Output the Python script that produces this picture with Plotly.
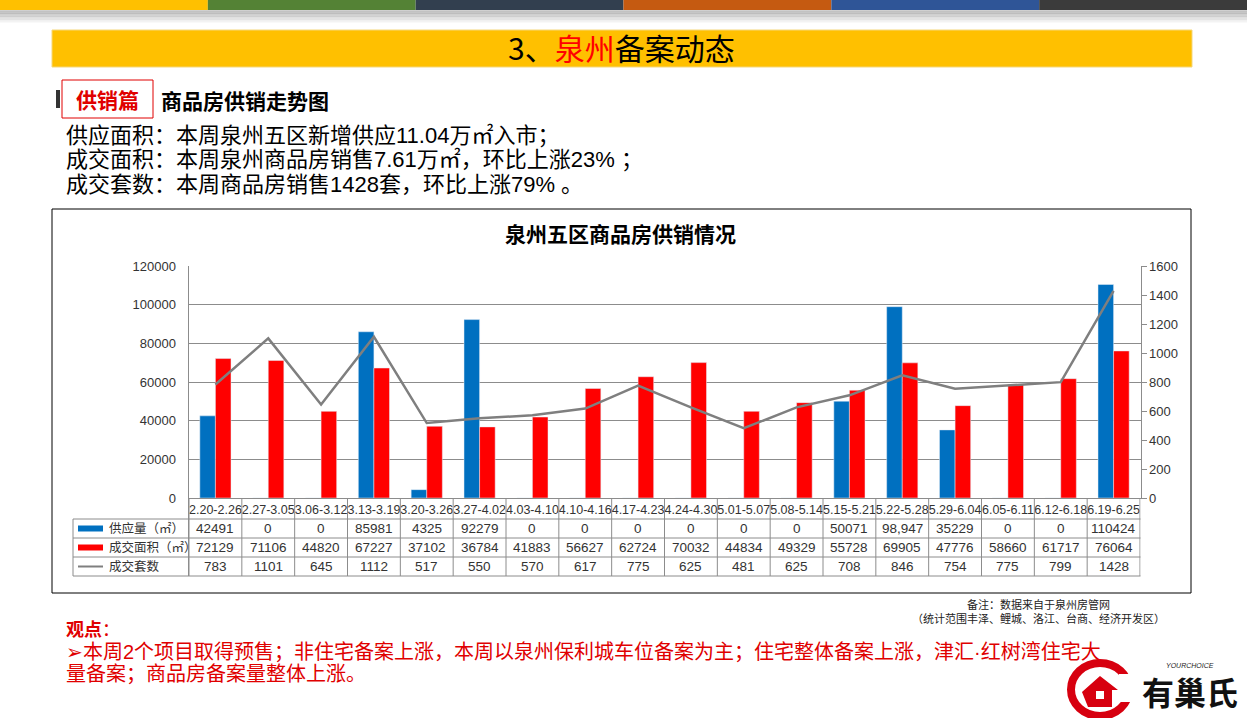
import plotly.graph_objects as go

W, H = 1247, 718

# ---------------- data ----------------
categories = ["2.20-2.26", "2.27-3.05", "3.06-3.12", "3.13-3.19", "3.20-3.26", "3.27-4.02",
              "4.03-4.10", "4.10-4.16", "4.17-4.23", "4.24-4.30", "5.01-5.07", "5.08-5.14",
              "5.15-5.21", "5.22-5.28", "5.29-6.04", "6.05-6.11", "6.12-6.18", "6.19-6.25"]
supply = [42491, 0, 0, 85981, 4325, 92279, 0, 0, 0, 0, 0, 0, 50071, 98947, 35229, 0, 0, 110424]
deal_area = [72129, 71106, 44820, 67227, 37102, 36784, 41883, 56627, 62724, 70032, 44834, 49329,
             55728, 69905, 47776, 58660, 61717, 76064]
deal_units = [783, 1101, 645, 1112, 517, 550, 570, 617, 775, 625, 481, 625, 708, 846, 754, 775, 799, 1428]
comma_idx = {13}  # table shows this cell with a thousands separator
series_names = ["供应量（㎡）", "成交面积（㎡）", "成交套数"]
left_ticks = [0, 20000, 40000, 60000, 80000, 100000, 120000]
right_ticks = [0, 200, 400, 600, 800, 1000, 1200, 1400, 1600]

BLUE = "#0070C0"
RED = "#FF0000"
GRAY_LINE = "#7F7F7F"
GRID = "#8C8C8C"
TXT = "#333333"
CJK = "Noto Sans CJK SC"
MIX = "Liberation Sans, Noto Sans CJK SC"


def px(x):
    return x / W


def py(y):
    return 1 - y / H


PL, PR, PT, PB = 188.5, 1140.5, 266, 498  # plot area in pixels

fig = go.Figure()
fig.add_trace(go.Bar(x=categories, y=supply, name=series_names[0], marker_color=BLUE))
fig.add_trace(go.Bar(x=categories, y=deal_area, name=series_names[1], marker_color=RED))
fig.add_trace(go.Scatter(x=categories, y=deal_units, name=series_names[2], mode="lines",
                         line=dict(color=GRAY_LINE, width=2.5), yaxis="y2"))

shapes = []
annotations = []

# ---------- header stripes ----------
stripe_colors = ["#FFC000", "#548235", "#323F4F", "#C55A11", "#2F5597", "#3B3B3B"]
sw = W / len(stripe_colors)
for i, c in enumerate(stripe_colors):
    shapes.append(dict(type="rect", xref="paper", yref="paper", x0=px(i * sw), x1=px((i + 1) * sw),
                       y0=py(10), y1=py(0), fillcolor=c, line_width=0, layer="above"))
for k in range(8):
    shapes.append(dict(type="rect", xref="paper", yref="paper", x0=0, x1=1,
                       y0=py(11 + 1.5 * (k + 1)), y1=py(10 + 1.5 * k),
                       fillcolor="rgba(120,120,120,%.3f)" % (0.35 * (1 - k / 8)), line_width=0))

# yellow banner
shapes.append(dict(type="rect", xref="paper", yref="paper", x0=px(52), x1=px(1192), y0=py(67), y1=py(30),
                   fillcolor="#FFC000", line=dict(color="#F5D77A", width=1)))
annotations.append(dict(xref="paper", yref="paper", x=px(621), y=py(47), showarrow=False,
                        text="3、<span style='color:#FF0000'>泉州</span>备案动态",
                        font=dict(family=CJK, size=30, color="#000000"), xanchor="center", yanchor="middle"))

# section label box
shapes.append(dict(type="rect", xref="paper", yref="paper", x0=px(62), x1=px(153), y0=py(118), y1=py(80),
                   fillcolor="white", line=dict(color="#E00000", width=1)))
shapes.append(dict(type="rect", xref="paper", yref="paper", x0=px(56), x1=px(60), y0=py(108), y1=py(90),
                   fillcolor="#333333", line_width=0))
annotations.append(dict(xref="paper", yref="paper", x=px(107.5), y=py(99), showarrow=False,
                        text="<b>供销篇</b>", font=dict(family=CJK, size=21, color="#E00000"),
                        xanchor="center", yanchor="middle"))
annotations.append(dict(xref="paper", yref="paper", x=px(159), y=py(100), showarrow=False,
                        text="<b>商品房供销走势图</b>", font=dict(family=CJK, size=21, color="#000000"),
                        xanchor="left", yanchor="middle"))

summary_lines = ["供应面积：本周泉州五区新增供应11.04万㎡入市；",
                 "成交面积：本周泉州商品房销售7.61万㎡，环比上涨23% ；",
                 "成交套数：本周商品房销售1428套，环比上涨79% 。"]
for i, line in enumerate(summary_lines):
    annotations.append(dict(xref="paper", yref="paper", x=px(64), y=py(135 + 24.5 * i), showarrow=False,
                            text=line, font=dict(family=MIX, size=22, color="#000000"),
                            xanchor="left", yanchor="middle"))

# chart frame
shapes.append(dict(type="rect", xref="paper", yref="paper", x0=px(52), x1=px(1191), y0=py(593), y1=py(209),
                   line=dict(color="#000000", width=1), fillcolor="rgba(0,0,0,0)"))
annotations.append(dict(xref="paper", yref="paper", x=px(620), y=py(233), showarrow=False,
                        text="<b>泉州五区商品房供销情况</b>", font=dict(family=CJK, size=21, color="#000000"),
                        xanchor="center", yanchor="middle"))

# ---------- data table ----------
T_TOP, R1, R2, T_BOT = 519, 538, 557, 576
TL = 73
n = len(categories)
for i in range(n + 1):
    shapes.append(dict(type="line", xref="x", yref="paper", x0=i - 0.5, x1=i - 0.5,
                       y0=py(T_BOT), y1=py(PB), line=dict(color=GRID, width=1)))
for yy in (T_TOP, R1, R2, T_BOT):
    shapes.append(dict(type="line", xref="paper", yref="paper", x0=px(TL), x1=px(PR),
                       y0=py(yy), y1=py(yy), line=dict(color=GRID, width=1)))
shapes.append(dict(type="line", xref="paper", yref="paper", x0=px(TL), x1=px(TL),
                   y0=py(T_BOT), y1=py(T_TOP), line=dict(color=GRID, width=1)))
shapes.append(dict(type="line", xref="paper", yref="paper", x0=px(PL), x1=px(PL),
                   y0=py(T_BOT), y1=py(PB), line=dict(color=GRID, width=1)))

row_centers = [(T_TOP + R1) / 2, (R1 + R2) / 2, (R2 + T_BOT) / 2]
shapes.append(dict(type="rect", xref="paper", yref="paper", x0=px(78), x1=px(103),
                   y0=py(row_centers[0] + 3), y1=py(row_centers[0] - 3), fillcolor=BLUE, line_width=0))
shapes.append(dict(type="rect", xref="paper", yref="paper", x0=px(78), x1=px(103),
                   y0=py(row_centers[1] + 3), y1=py(row_centers[1] - 3), fillcolor=RED, line_width=0))
shapes.append(dict(type="line", xref="paper", yref="paper", x0=px(78), x1=px(103),
                   y0=py(row_centers[2]), y1=py(row_centers[2]), line=dict(color=GRAY_LINE, width=2)))
for r, name in enumerate(series_names):
    annotations.append(dict(xref="paper", yref="paper", x=px(107), y=py(row_centers[r]), showarrow=False,
                            text=name, font=dict(family=MIX, size=12.5, color=TXT),
                            xanchor="left", yanchor="middle"))

rows = [
    [f"{v:,}" if i in comma_idx else str(v) for i, v in enumerate(supply)],
    [str(v) for v in deal_area],
    [str(v) for v in deal_units],
]
for r, vals in enumerate(rows):
    for i, v in enumerate(vals):
        annotations.append(dict(xref="x", yref="paper", x=categories[i], y=py(row_centers[r]), showarrow=False,
                                text=v, font=dict(family=MIX, size=13.5, color=TXT),
                                xanchor="center", yanchor="middle"))

# ---------- notes ----------
annotations.append(dict(xref="paper", yref="paper", x=px(1038), y=py(604), showarrow=False,
                        text="备注：数据来自于泉州房管网", font=dict(family=MIX, size=11, color="#222222"),
                        xanchor="center", yanchor="middle"))
annotations.append(dict(xref="paper", yref="paper", x=px(1038), y=py(618), showarrow=False,
                        text="（统计范围丰泽、鲤城、洛江、台商、经济开发区）",
                        font=dict(family=MIX, size=11, color="#222222"), xanchor="center", yanchor="middle"))
annotations.append(dict(xref="paper", yref="paper", x=px(64), y=py(630), showarrow=False,
                        text="<b>观点</b>：", font=dict(family=MIX, size=18, color="#E00000"),
                        xanchor="left", yanchor="middle"))
view_lines = ["➢本周2个项目取得预售；非住宅备案上涨，本周以泉州保利城车位备案为主；住宅整体备案上涨，津汇·红树湾住宅大",
              "量备案；商品房备案量整体上涨。"]
for i, line in enumerate(view_lines):
    annotations.append(dict(xref="paper", yref="paper", x=px(64), y=py(652 + 22 * i), showarrow=False,
                            text=line, font=dict(family=MIX, size=20, color="#E00000"),
                            xanchor="left", yanchor="middle"))

# ---------- logo ----------
shapes.append(dict(type="circle", xref="paper", yref="paper", x0=px(1071), x1=px(1129), y0=py(716), y1=py(663),
                   line=dict(color="#D7000F", width=8), fillcolor="rgba(0,0,0,0)"))
shapes.append(dict(type="rect", xref="paper", yref="paper", x0=px(1119), x1=px(1135), y0=py(702), y1=py(674),
                   fillcolor="white", line_width=0))
shapes.append(dict(type="path", xref="paper", yref="paper",
                   path="M %f %f L %f %f L %f %f L %f %f L %f %f L %f %f Z" % (
                       px(1082), py(692), px(1100), py(676), px(1118), py(690),
                       px(1112), py(690), px(1112), py(707), px(1088), py(707)),
                   fillcolor="#D7000F", line_width=0))
shapes.append(dict(type="rect", xref="paper", yref="paper", x0=px(1096), x1=px(1104), y0=py(699), y1=py(691),
                   fillcolor="white", line_width=0))
annotations.append(dict(xref="paper", yref="paper", x=px(1190), y=py(665), showarrow=False,
                        text="<i>YOURCHOICE</i>", font=dict(family="Liberation Sans", size=7, color="#222222"),
                        xanchor="center", yanchor="middle"))
annotations.append(dict(xref="paper", yref="paper", x=px(1190), y=py(694), showarrow=False,
                        text="<b>有巢氏</b>", font=dict(family=MIX, size=32, color="#111111"),
                        xanchor="center", yanchor="middle"))

fig.update_layout(
    width=W, height=H, autosize=False,
    margin=dict(l=0, r=0, t=0, b=0, pad=0),
    paper_bgcolor="white", plot_bgcolor="white",
    showlegend=False,
    barmode="group", bargap=0.41, bargroupgap=0,
    font=dict(family=MIX, color=TXT),
    xaxis=dict(domain=[px(PL), px(PR)], type="category", showgrid=False, showline=True, automargin=False,
               linecolor=GRID, linewidth=1, ticks="", tickfont=dict(family=MIX, size=12.5, color=TXT),
               tickangle=0, fixedrange=True),
    yaxis=dict(domain=[py(PB), py(PT)], range=[0, 120000], tickvals=left_ticks, automargin=False,
               ticktext=[str(v) for v in left_ticks], showgrid=True, gridcolor=GRID, gridwidth=1,
               showline=True, linecolor=GRID, zeroline=False, ticks="",
               tickfont=dict(family=MIX, size=13, color=TXT), ticklabelstandoff=9),
    yaxis2=dict(overlaying="y", side="right", anchor="x", range=[0, 1600], tickvals=right_ticks,
                ticktext=[str(v) for v in right_ticks], showgrid=False, showline=True, linecolor=GRID,
                zeroline=False, ticks="outside", ticklen=5, tickcolor=GRID, automargin=False,
                tickfont=dict(family=MIX, size=13, color=TXT)),
    shapes=shapes,
    annotations=annotations,
)

fig.write_html("out.html", config={"displayModeBar": False},
               post_script="document.body.style.margin='0';document.body.style.padding='0';"
                           "document.body.style.overflow='hidden';")
